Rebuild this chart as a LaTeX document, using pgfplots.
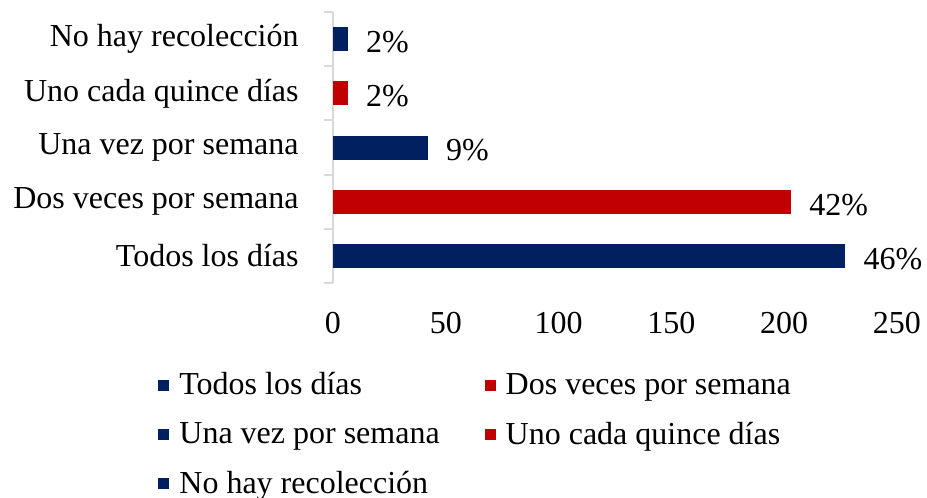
\documentclass[border=0pt]{standalone}
\usepackage{pgfplots}
\pgfplotsset{compat=1.18}
\usepackage{fontspec}
\setmainfont{Liberation Serif}
\definecolor{navy}{HTML}{002060}
\definecolor{dred}{HTML}{C00000}
\definecolor{axgray}{HTML}{D9D9D9}
\begin{document}
\begin{tikzpicture}
\useasboundingbox (-166.5pt,-107.5pt) rectangle (297pt,141.5pt);
\begin{axis}[
  at={(0,0)}, anchor=south west,
  scale only axis, width=282pt, height=135.5pt,
  xbar, bar width=12pt, bar shift=0pt,
  xmin=0, xmax=250, ymin=-0.5, ymax=4.5,
  xtick={0,50,...,250},
  ytick={0,1,2,3,4},
  yticklabels={Todos los días, Dos veces por semana, Una vez por semana, Uno cada quince días, No hay recolección},
  minor ytick={-0.5,0.5,...,4.5},
  major tick length=0pt, minor tick length=4.5pt,
  tick align=outside,
  axis lines*=left,
  x axis line style={draw=none},
  y axis line style={-, draw=axgray, line width=1pt},
  minor y tick style={draw=axgray, line width=1pt},
  major tick style={draw=none},
  font=\fontsize{16}{19}\selectfont,
  /pgf/number format/assume math mode=true,
  xticklabel style={font=\fontsize{16}{19}\selectfont, inner sep=0pt, anchor=north, yshift=-14.5pt},
  yticklabel style={font=\fontsize{16}{19}\selectfont, inner sep=0pt, anchor=east, xshift=-17pt},
  nodes near coords, point meta=explicit symbolic,
  nodes near coords style={anchor=west, inner sep=0pt, xshift=9pt, yshift=-1.5pt, font=\fontsize{16}{19}\selectfont, text=black},
  legend columns=2, legend cell align=left,
  legend image code/.code={\fill[#1] (0pt,-2.75pt) rectangle (5.5pt,2.75pt);},
  legend style={draw=none, fill=none, at={(-0.3209,-0.30)}, anchor=north west,
    font=\fontsize{16}{19}\selectfont,
    /tikz/every odd column/.append style={column sep=3pt},
    /tikz/every even column/.append style={column sep=20.5pt}, row sep=8pt},
  clip=false,
]
\addplot[fill=navy, draw=none] coordinates {(227,0) [46\%]};
\addlegendentry{Todos los días}
\addplot[fill=dred, draw=none] coordinates {(203,1) [42\%]};
\addlegendentry{Dos veces por semana}
\addplot[fill=navy, draw=none] coordinates {(42,2) [9\%]};
\addlegendentry{Una vez por semana}
\addplot[fill=dred, draw=none] coordinates {(6.5,3) [2\%]};
\addlegendentry{Uno cada quince días}
\addplot[fill=navy, draw=none] coordinates {(6.5,4) [2\%]};
\addlegendentry{No hay recolección}
\end{axis}
\end{tikzpicture}
\end{document}
